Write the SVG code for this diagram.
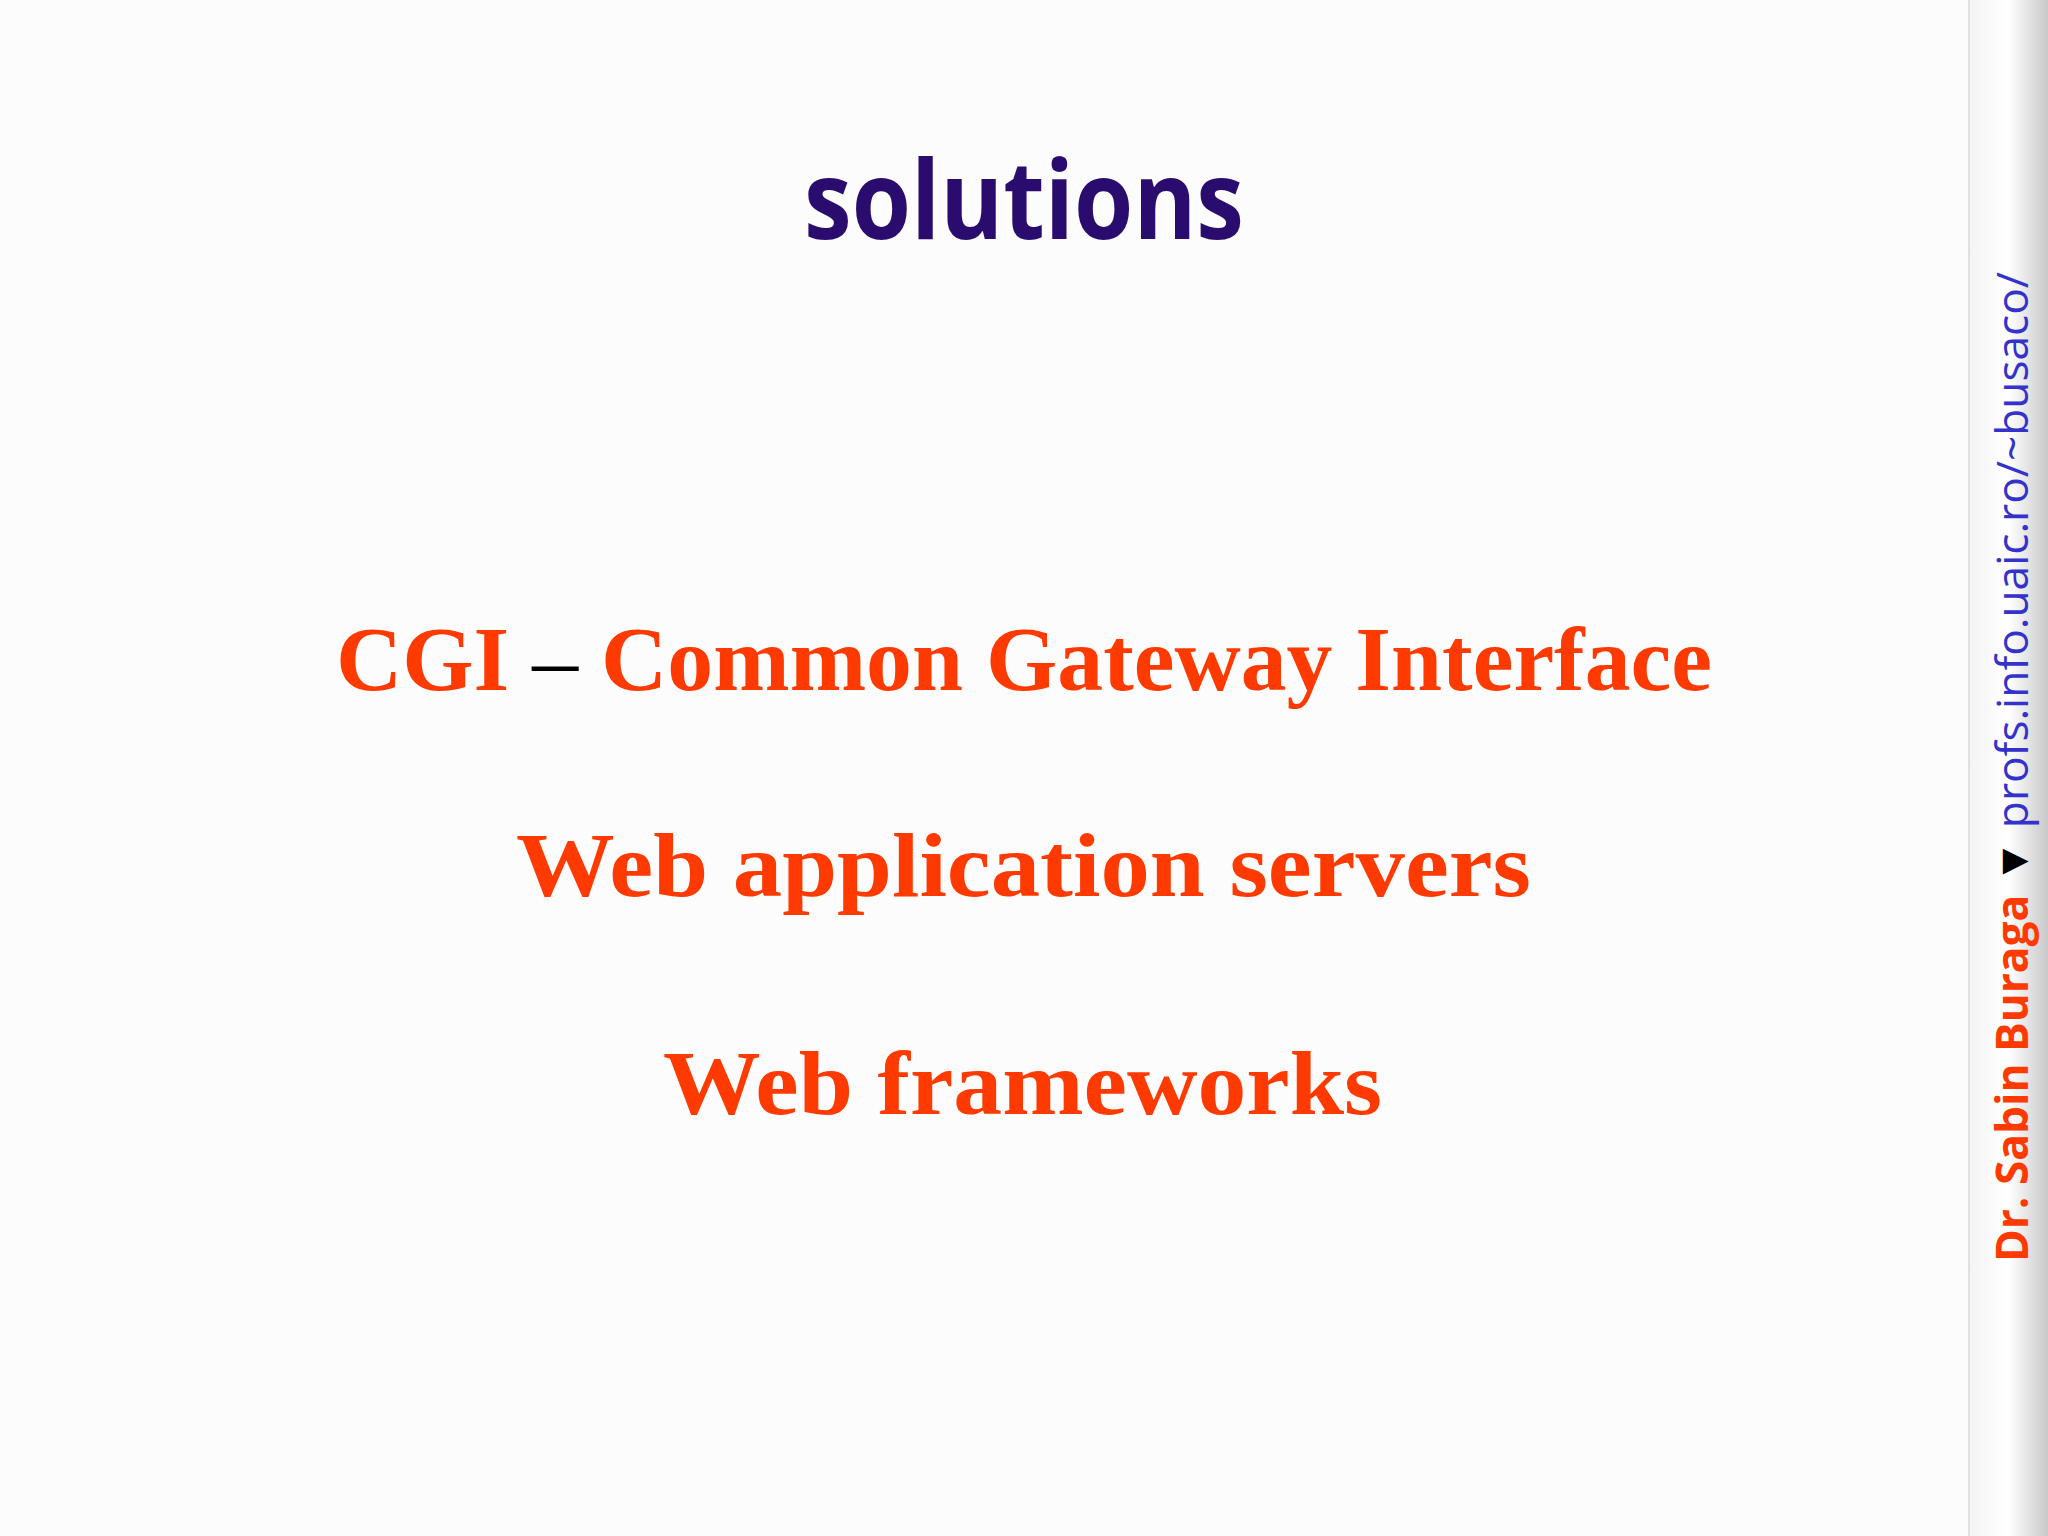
<svg xmlns="http://www.w3.org/2000/svg" width="2048" height="1536" viewBox="0 0 2048 1536">
<defs>
<linearGradient id="bar" x1="0" x2="1" y1="0" y2="0">
<stop offset="0" stop-color="#f4f4f4"/><stop offset="0.5" stop-color="#ffffff"/><stop offset="1" stop-color="#c8c8c8"/>
</linearGradient>
<style>
.t{font-family:"Liberation Serif","DejaVu Serif",serif;font-weight:bold;fill:#ff3a00;font-size:92px}
</style>
</defs>
<rect width="2048" height="1536" fill="#fcfcfc"/>
<rect x="1969" y="0" width="79" height="1536" fill="url(#bar)"/>
<line x1="1969" y1="0" x2="1969" y2="1536" stroke="#e0e0e0" stroke-width="2"/>
<g id="title"><text x="1024" y="239" text-anchor="middle" font-family="Open Sans, sans-serif" font-weight="bold" font-size="110" fill="#2a0b6e" textLength="440" lengthAdjust="spacingAndGlyphs">solutions</text></g>
<g id="cgi"><text class="t" x="336" y="690" textLength="1376" lengthAdjust="spacingAndGlyphs">CGI <tspan fill="#000" font-weight="normal">–</tspan> Common Gateway Interface</text></g>
<g id="was"><text class="t" x="516" y="896" textLength="1015" lengthAdjust="spacingAndGlyphs">Web application servers</text></g>
<g id="wf"><text class="t" x="663" y="1114" textLength="719" lengthAdjust="spacingAndGlyphs">Web frameworks</text></g>
<g id="side"><text transform="translate(2028,1262) rotate(-90)" font-family="Open Sans, sans-serif" font-size="44" textLength="990" lengthAdjust="spacingAndGlyphs"><tspan fill="#ff3a00" font-weight="bold">Dr. Sabin Buraga</tspan><tspan fill="#000"> ▼ </tspan><tspan fill="#3333cc">profs.info.uaic.ro/~busaco/</tspan></text></g>
</svg>
